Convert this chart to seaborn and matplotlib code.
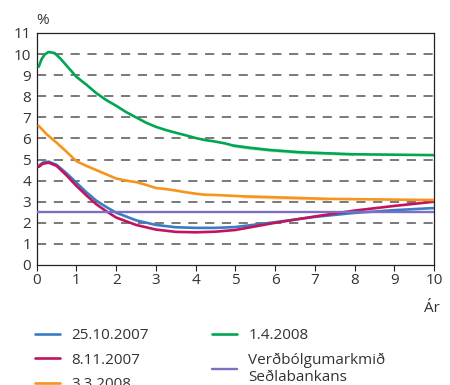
import numpy as np
import pandas as pd
import seaborn as sns
import matplotlib.pyplot as plt

# Data (years ahead, %)
x_oct = [0.05, 0.15, 0.3, 0.5, 0.75, 1.0, 1.25, 1.5, 1.75, 2.0, 2.5, 3.0, 3.5, 4.0,
         4.5, 5.0, 6.0, 7.0, 8.0, 9.0, 10.0]
y_oct = [4.7, 4.85, 4.9, 4.75, 4.35, 3.9, 3.45, 3.05, 2.75, 2.48, 2.12, 1.9, 1.79, 1.76,
         1.76, 1.8, 2.03, 2.28, 2.47, 2.6, 2.7]

x_nov = x_oct
y_nov = [4.65, 4.8, 4.85, 4.7, 4.25, 3.75, 3.3, 2.88, 2.55, 2.25, 1.9, 1.68, 1.57, 1.55,
         1.58, 1.66, 2.0, 2.3, 2.58, 2.8, 3.0]

x_mar = [0.05, 0.25, 0.5, 0.75, 1.0, 1.25, 1.5, 1.75, 2.0, 2.25, 2.5, 2.75, 3.0, 3.25,
         3.5, 3.75, 4.0, 4.25, 4.5, 5.2, 5.2, 7.3, 7.3, 10.0]
y_mar = [6.6, 6.2, 5.8, 5.37, 4.92, 4.7, 4.5, 4.3, 4.1, 4.0, 3.93, 3.8, 3.65, 3.6,
         3.53, 3.45, 3.38, 3.33, 3.32, 3.32, 3.19, 3.19, 3.08, 3.08]

x_apr = [0.05, 0.12, 0.2, 0.3, 0.45, 0.6, 0.8, 1.0, 1.25, 1.5, 1.75, 2.0, 2.25, 2.5, 2.75,
         3.0, 3.25, 3.5, 3.75, 4.0, 4.25, 4.5, 4.75, 4.94, 4.94, 5.37, 5.37, 5.88, 5.88,
         6.63, 6.63, 7.97, 7.97, 10.0]
y_apr = [9.4, 9.75, 9.98, 10.1, 10.05, 9.78, 9.35, 8.92, 8.55, 8.15, 7.82, 7.55, 7.25, 7.0,
         6.75, 6.55, 6.4, 6.27, 6.15, 6.02, 5.92, 5.85, 5.76, 5.72, 5.61, 5.61, 5.5, 5.5,
         5.4, 5.4, 5.29, 5.29, 5.21, 5.21]

x_target = [0.0, 10.0]
y_target = [2.5, 2.5]

series = [
    ("25.10.2007", x_oct, y_oct, "#3b7cc4", 1.9),
    ("8.11.2007", x_nov, y_nov, "#c2135f", 1.9),
    ("3.3.2008", x_mar, y_mar, "#f7941d", 1.9),
    ("1.4.2008", x_apr, y_apr, "#00a651", 1.9),
    ("Verðbólgumarkmið\nSeðlabankans", x_target, y_target, "#7a6fc4", 1.7),
]

sns.set_style("white")
plt.rcParams['font.family'] = ['Open Sans', 'DejaVu Sans']
text_color = "#333333"

fig = plt.figure(figsize=(4.5, 3.85), dpi=100)
ax = fig.add_axes([0.0816, 0.3117, 0.8828, 0.6026])

for yv in range(1, 11):
    ax.axhline(yv, color="#555555", lw=1.1, linestyle=(0, (6, 5)), zorder=1)

for label, xs, ys, color, lw in series:
    df = pd.DataFrame({"x": xs, "y": ys})
    sns.lineplot(data=df, x="x", y="y", sort=False, color=color, lw=lw,
                 label=label, ax=ax, zorder=3, legend=False)

ax.set_xlim(0, 10)
ax.set_ylim(0, 11)
ax.set_xticks(range(0, 11))
ax.set_yticks(range(0, 12))
ax.set_xlabel("")
ax.set_ylabel("")
ax.tick_params(axis="x", length=4, width=0.8, color="#222222", pad=2,
               labelsize=11, labelcolor=text_color, direction="out", bottom=True)
ax.tick_params(axis="y", length=0, pad=4, labelsize=11, labelcolor=text_color)
for side in ["left", "right", "top", "bottom"]:
    ax.spines[side].set_visible(True)
    ax.spines[side].set_color("#222222")
    ax.spines[side].set_linewidth(0.9)

ax.text(0.0, 1.055, "%", transform=ax.transAxes, ha="left", va="center",
        fontsize=11, color=text_color)
fig.text(432 / 450, 1 - 308 / 385, "Ár", ha="center", va="center",
         fontsize=11, color=text_color)

handles, labels = ax.get_legend_handles_labels()
leg = fig.legend(handles, labels, ncol=2, loc="upper left",
                 bbox_to_anchor=(35 / 450, 1 - 328 / 385), frameon=False,
                 fontsize=11, handlelength=1.65, handletextpad=0.75,
                 columnspacing=4.1, labelspacing=0.63, borderaxespad=0,
                 borderpad=0)
for t in leg.get_texts():
    t.set_color(text_color)

fig.savefig("out.png", dpi=100)
